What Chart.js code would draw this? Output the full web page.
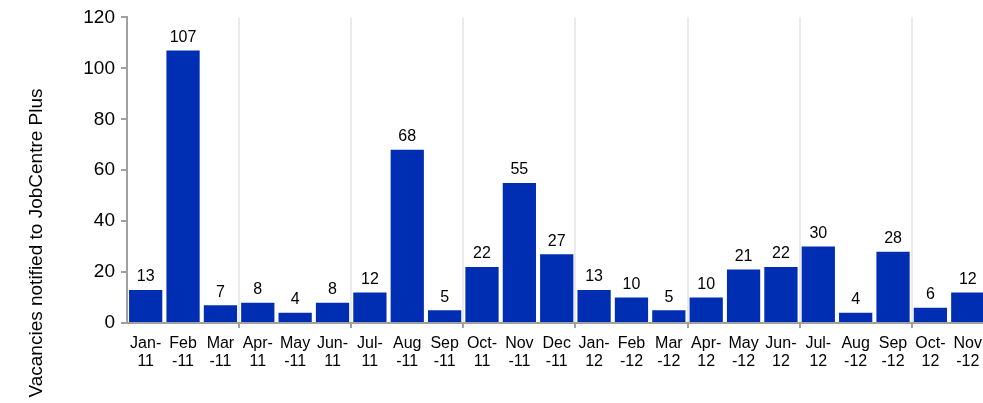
<!DOCTYPE html>
<html>
<head>
<meta charset="utf-8">
<script src="https://cdn.jsdelivr.net/npm/chart.js@4"></script>
<style>
html,body{margin:0;padding:0;background:#fff;overflow:hidden;}
#wrap{width:983px;height:403px;position:relative;overflow:hidden;}
canvas{display:block;}
</style>
</head>
<body>
<div id="wrap"><canvas id="c" width="989" height="403"></canvas></div>
<script>
const categories = [
  ["Jan-","11"],["Feb","-11"],["Mar","-11"],["Apr-","11"],["May","-11"],["Jun-","11"],
  ["Jul-","11"],["Aug","-11"],["Sep","-11"],["Oct-","11"],["Nov","-11"],["Dec","-11"],
  ["Jan-","12"],["Feb","-12"],["Mar","-12"],["Apr-","12"],["May","-12"],["Jun-","12"],
  ["Jul-","12"],["Aug","-12"],["Sep","-12"],["Oct-","12"],["Nov","-12"]
];
const vacancies = [13,107,7,8,4,8,12,68,5,22,55,27,13,10,5,10,21,22,30,4,28,6,12];
const yTicks = [0,20,40,60,80,100,120];
const yTitle = "Vacancies notified to JobCentre Plus";

const FONT = "'Liberation Sans', Arial, sans-serif";

const valueLabels = {
  id: 'valueLabels',
  afterDatasetsDraw(chart) {
    const ctx = chart.ctx;
    const meta = chart.getDatasetMeta(0);
    ctx.save();
    ctx.font = "16px " + FONT;
    ctx.fillStyle = "#000";
    ctx.textAlign = "center";
    ctx.textBaseline = "bottom";
    meta.data.forEach((bar, i) => {
      ctx.fillText(String(vacancies[i]), bar.x, bar.y - 5);
    });
    ctx.restore();
  }
};

const yTitlePlugin = {
  id: 'yTitlePlugin',
  afterDraw(chart) {
    const ctx = chart.ctx;
    ctx.save();
    ctx.translate(37, 243);
    ctx.rotate(-Math.PI / 2);
    ctx.font = "19px " + FONT;
    ctx.fillStyle = "#000";
    ctx.textAlign = "center";
    ctx.textBaseline = "middle";
    ctx.fillText(yTitle, 0, 0);
    ctx.restore();
  }
};

new Chart(document.getElementById('c'), {
  type: 'bar',
  data: {
    labels: categories,
    datasets: [{
      data: vacancies,
      backgroundColor: '#002EB2',
      borderWidth: 0,
      barPercentage: 0.89,
      categoryPercentage: 1.0
    }]
  },
  options: {
    responsive: false,
    animation: false,
    devicePixelRatio: 1,
    layout: { padding: { left: 0, right: 0, top: 14, bottom: 0 } },
    plugins: { legend: { display: false }, tooltip: { enabled: false } },
    scales: {
      x: {
        offset: true,
        grid: {
          offset: true,
          drawOnChartArea: true,
          color: (c) => (c.index % 3 === 0 && c.index > 0) ? '#ebebeb' : 'rgba(0,0,0,0)',
          tickColor: (c) => (c.index % 3 === 0 && c.index > 0) ? '#a0a0a0' : 'rgba(0,0,0,0)',
          tickLength: 5,
          lineWidth: 2
        },
        border: { display: true, color: '#a0a0a0', width: 2 },
        ticks: {
          autoSkip: false,
          maxRotation: 0,
          minRotation: 0,
          color: '#000',
          padding: 7,
          font: { family: FONT, size: 16, lineHeight: 1.1 }
        },
        afterFit(scale) { scale.height = 80; }
      },
      y: {
        min: 0,
        max: 120,
        afterBuildTicks(scale) { scale.ticks = yTicks.map(v => ({ value: v })); },
        grid: {
          drawOnChartArea: false,
          tickLength: 6,
          tickColor: '#a0a0a0',
          lineWidth: 2
        },
        border: { display: true, color: '#a0a0a0', width: 2 },
        ticks: {
          color: '#000',
          padding: 6,
          font: { family: FONT, size: 19 }
        },
        afterFit(scale) { scale.width = 127; }
      }
    }
  },
  plugins: [valueLabels, yTitlePlugin]
});
</script>
</body>
</html>
